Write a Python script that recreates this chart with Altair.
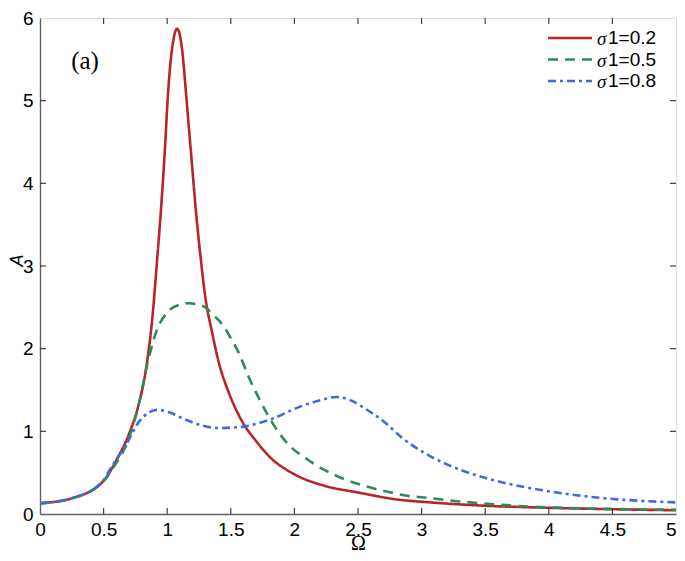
import altair as alt
import pandas as pd

# ---- data ----
series_labels = ["σ1=0.2", "σ1=0.5", "σ1=0.8"]
legend_rest = ["1=0.2", "1=0.5", "1=0.8"]
series_colors = ["#b8242a", "#2e8b57", "#4169e1"]
series_dash = [[1, 0], [10, 7], [8, 4, 3, 4]]

omega_02 = [0, 0.25, 0.5, 0.6, 0.7, 0.78, 0.833, 0.885, 0.924, 0.951, 0.982, 1.005, 1.025,
            1.045, 1.062, 1.078, 1.095, 1.112, 1.13, 1.15, 1.185, 1.229, 1.26, 1.30, 1.354,
            1.406, 1.484, 1.589, 1.70, 1.80, 2.0, 2.24, 2.5, 2.81, 3.07, 3.5, 4.0, 4.5, 5.0]
amp_02 = [0.13, 0.19, 0.40, 0.65, 0.97, 1.35, 1.75, 2.4, 3.14, 3.68, 4.41, 5.05, 5.45,
          5.70, 5.83, 5.87, 5.82, 5.68, 5.42, 5.05, 4.41, 3.61, 3.14, 2.62, 2.19,
          1.83, 1.47, 1.12, 0.88, 0.70, 0.48, 0.34, 0.26, 0.175, 0.14, 0.10, 0.075, 0.058, 0.045]

omega_05 = [0, 0.25, 0.5, 0.6, 0.69, 0.78, 0.846, 0.92, 0.99, 1.06, 1.17, 1.25, 1.30, 1.354,
            1.43, 1.51, 1.5625, 1.64, 1.745, 1.82, 1.953, 2.083, 2.24, 2.396, 2.55, 2.76,
            2.89, 3.02, 3.28, 3.85, 4.375, 5.0]
amp_05 = [0.13, 0.19, 0.40, 0.62, 0.88, 1.35, 1.83, 2.23, 2.42, 2.51, 2.55, 2.53, 2.50, 2.42,
          2.30, 2.10, 1.95, 1.66, 1.33, 1.12, 0.84, 0.68, 0.53, 0.42, 0.34, 0.26,
          0.22, 0.20, 0.155, 0.09, 0.064, 0.052]

omega_08 = [0, 0.25, 0.5, 0.547, 0.677, 0.78, 0.859, 0.924, 1.016, 1.146, 1.276, 1.406, 1.5,
            1.615, 1.72, 1.823, 2.03, 2.19, 2.33, 2.45, 2.55, 2.71, 2.84, 3.02, 3.2, 3.33,
            3.59, 3.98, 4.375, 5.0]
amp_08 = [0.13, 0.19, 0.41, 0.53, 0.84, 1.12, 1.23, 1.26, 1.23, 1.14, 1.07, 1.04, 1.045,
          1.06, 1.10, 1.15, 1.29, 1.37, 1.415, 1.37, 1.28, 1.11, 0.93, 0.74, 0.60, 0.52,
          0.40, 0.28, 0.20, 0.14]

x_ticks = [0, 0.5, 1, 1.5, 2, 2.5, 3, 3.5, 4, 4.5, 5]
y_ticks = [0, 1, 2, 3, 4, 5, 6]

# ---- build table ----
rows = []
for lab, om, am in zip(series_labels, [omega_02, omega_05, omega_08], [amp_02, amp_05, amp_08]):
    for i, (o, a) in enumerate(zip(om, am)):
        rows.append({"Omega": o, "A": a, "series": lab, "order": i})
df = pd.DataFrame(rows)

W, H = 636, 496
PAD_TOP = 10
xscale = alt.Scale(domain=[0, 5], nice=False, zero=False)
yscale = alt.Scale(domain=[0, 6], nice=False, zero=False)

x_axis = alt.Axis(values=x_ticks, format="~g", title="Ω", ticks=False, grid=False,
                  labelFont="Liberation Sans", labelFontSize=19, labelColor="black",
                  labelPadding=6, labelFlush=False,
                  labelAlign={"condition": {"test": "datum.value >= 5", "value": "right"}, "value": "center"},
                  titleFont="Liberation Serif", titleFontSize=20, titleFontWeight="normal",
                  titleColor="black", titleBaseline="alphabetic", titleY=35, titleX=W / 2,
                  domainColor="#606060", domainWidth=1.4)
y_axis = alt.Axis(values=y_ticks, format="~g", title="A", ticks=False, grid=False,
                  labelFont="Liberation Sans", labelFontSize=19, labelColor="black",
                  labelPadding=7, labelFlush=False,
                  titleFont="Liberation Sans", titleFontStyle="italic", titleFontSize=18,
                  titleFontWeight="normal", titleColor="black", titleAngle=270,
                  titleBaseline="middle", titleX=-23, titleY=H / 2 - 6,
                  domainColor="#606060", domainWidth=1.4)

lines = alt.Chart(df).mark_line(strokeWidth=2.6, interpolate="monotone", clip=True).encode(
    x=alt.X("Omega:Q", scale=xscale, axis=x_axis),
    y=alt.Y("A:Q", scale=yscale, axis=y_axis),
    color=alt.Color("series:N", scale=alt.Scale(domain=series_labels, range=series_colors), legend=None),
    strokeDash=alt.StrokeDash("series:N", scale=alt.Scale(domain=series_labels, range=series_dash), legend=None),
    order="order:Q",
)

tick_len = 6
xt = pd.DataFrame({"t": x_ticks[1:-1]})
yt = pd.DataFrame({"t": y_ticks[1:-1]})
tick_style = dict(color="#404040", strokeWidth=1.2)
bottom_ticks = alt.Chart(xt).mark_rule(**tick_style).encode(
    x=alt.X("t:Q", scale=xscale, axis=x_axis), y=alt.value(H), y2=alt.value(H - tick_len))
top_ticks = alt.Chart(xt).mark_rule(**tick_style).encode(
    x=alt.X("t:Q", scale=xscale, axis=x_axis), y=alt.value(0), y2=alt.value(tick_len))
left_ticks = alt.Chart(yt).mark_rule(**tick_style).encode(
    y=alt.Y("t:Q", scale=yscale, axis=y_axis), x=alt.value(0), x2=alt.value(tick_len))
right_ticks = alt.Chart(yt).mark_rule(**tick_style).encode(
    y=alt.Y("t:Q", scale=yscale, axis=y_axis), x=alt.value(W), x2=alt.value(W - tick_len))

# ---- manual legend ----
legend_layers = []
leg_x0, leg_len, row0, row_gap = 508, 44, 20, 21.5
for i, lab in enumerate(series_labels):
    yy = row0 + i * row_gap
    legend_layers.append(
        alt.Chart(pd.DataFrame({"k": [lab]})).mark_rule(
            color=series_colors[i], strokeDash=series_dash[i], strokeWidth=2.6
        ).encode(x=alt.value(leg_x0), x2=alt.value(leg_x0 + leg_len), y=alt.value(yy))
    )
    legend_layers.append(
        alt.Chart(pd.DataFrame({"k": [lab]})).mark_text(
            text="σ", align="left", baseline="middle", font="Liberation Serif",
            fontStyle="italic", fontSize=19, color="black"
        ).encode(x=alt.value(leg_x0 + leg_len + 5), y=alt.value(yy + 1))
    )
    legend_layers.append(
        alt.Chart(pd.DataFrame({"k": [lab]})).mark_text(
            text=legend_rest[i], align="left", baseline="middle", font="Liberation Sans",
            fontSize=19, color="black"
        ).encode(x=alt.value(leg_x0 + leg_len + 16), y=alt.value(yy))
    )

panel_label = alt.Chart(pd.DataFrame({"k": ["(a)"]})).mark_text(
    text="(a)", align="center", baseline="middle", font="Liberation Serif", fontSize=25, color="black"
).encode(x=alt.value(45), y=alt.value(43))

chart = alt.layer(
    lines, bottom_ticks, top_ticks, left_ticks, right_ticks, panel_label, *legend_layers
).properties(
    width=W, height=H,
    padding={"left": 32, "top": PAD_TOP, "right": 1, "bottom": 39},
    autosize=alt.AutoSizeParams(type="none"),
).configure_view(stroke="black", strokeWidth=1).configure(background="white")

chart.save("out.html", embed_options={"renderer": "svg", "actions": False})
